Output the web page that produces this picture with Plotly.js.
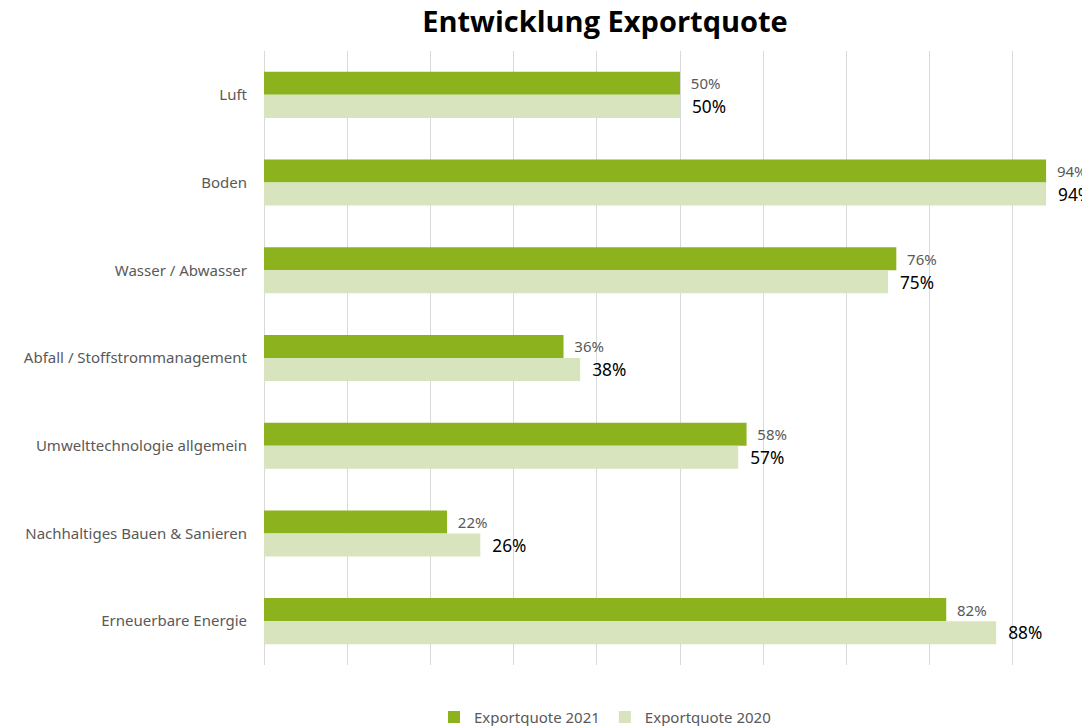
<!DOCTYPE html>
<html>
<head>
<meta charset="utf-8">
<script src="https://cdn.plot.ly/plotly-3.0.1.min.js"></script>
<style>
html, body { margin:0; padding:0; overflow:hidden; background:#fff; }
#chart { width:1210px; height:726px; }
</style>
</head>
<body>
<div id="chart"></div>
<script>
const categories = ["Luft", "Boden", "Wasser / Abwasser", "Abfall / Stoffstrommanagement", "Umwelttechnologie allgemein", "Nachhaltiges Bauen & Sanieren", "Erneuerbare Energie"];
const exportquote2021 = [0.50, 0.94, 0.76, 0.36, 0.58, 0.22, 0.82];
const exportquote2020 = [0.50, 0.94, 0.75, 0.38, 0.57, 0.26, 0.88];
const seriesNames = ["Exportquote 2021", "Exportquote 2020"];

const traces = [
  {
    type: "bar", orientation: "h", name: seriesNames[0],
    y: categories, x: exportquote2021,
    marker: { color: "#8CB31E" },
    texttemplate: "  %{x:.0%}", textposition: "outside",
    textfont: { family: "Noto Sans", size: 15, color: "#595959" },
    cliponaxis: false, hoverinfo: "skip"
  },
  {
    type: "bar", orientation: "h", name: seriesNames[1],
    y: categories, x: exportquote2020,
    marker: { color: "#D8E4BE" },
    texttemplate: "  %{x:.0%}", textposition: "outside",
    textfont: { family: "Noto Sans", size: 18, color: "#000000" },
    cliponaxis: false, hoverinfo: "skip"
  }
];

const layout = {
  width: 1210, height: 726,
  paper_bgcolor: "#ffffff", plot_bgcolor: "#ffffff",
  margin: { l: 264, r: 114, t: 51, b: 61, autoexpand: false },
  title: {
    text: "<b>Entwicklung Exportquote</b>",
    font: { family: "Open Sans", size: 29, color: "#000000" },
    x: 0.5, xref: "container", xanchor: "center",
    y: 0.97, yref: "container", yanchor: "middle"
  },
  barmode: "group", bargap: 0.475, bargroupgap: 0,
  xaxis: {
    range: [0, 1], dtick: 0.1, tickformat: ".0%",
    showticklabels: false, showgrid: true, gridcolor: "#D9D9D9", gridwidth: 1,
    zeroline: true, zerolinecolor: "#D9D9D9", zerolinewidth: 1, showline: false, fixedrange: true
  },
  yaxis: {
    autorange: "reversed", type: "category",
    tickfont: { family: "Noto Sans", size: 15, color: "#595959" },
    ticks: "", ticklabelstandoff: 16, showline: false, showgrid: false, fixedrange: true
  },
  showlegend: true,
  legend: {
    orientation: "h", x: 0.5, xref: "container", xanchor: "center",
    y: 0.012, yref: "container", yanchor: "middle",
    font: { family: "Noto Sans", size: 15, color: "#595959" },
    itemwidth: 30, traceorder: "normal"
  }
};

Plotly.newPlot("chart", traces, layout, { displayModeBar: false, staticPlot: true });
</script>
</body>
</html>
